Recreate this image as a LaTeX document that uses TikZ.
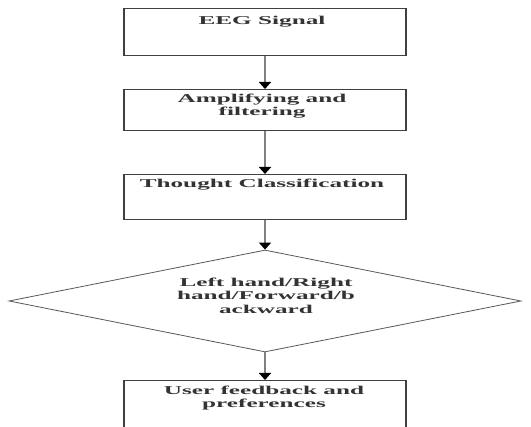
\documentclass[tikz,border=0pt]{standalone}
\usepackage{fontspec}
\setmainfont{Liberation Serif}
\usetikzlibrary{arrows.meta,shapes.geometric}
\newcommand{\stretchtxt}[1]{\scalebox{2.1}[1]{\bfseries\begin{tabular}{@{}c@{}}#1\end{tabular}}}
\begin{document}
\begin{tikzpicture}[x=1pt,y=-1pt,
  flowbox/.style={draw=black!75, line width=1.2pt, rectangle, inner sep=0pt,
    minimum width=282pt},
  decision/.style={draw=black!65, line width=0.8pt, diamond, inner sep=0pt,
    minimum width=512pt, minimum height=102pt},
  txt/.style={inner sep=0pt, text=black!80, font=\fontsize{12}{13.5}\selectfont},
  flowarrow/.style={draw=black!50, line width=2.4pt,
    -{Triangle[width=12pt,length=7pt,color=black]}}]
\clip (0,0) rectangle (531,427);
\fill[white] (0,0) rectangle (531,427);
% boxes
\node[flowbox, minimum height=47pt, anchor=north] (b1) at (265,8) {};
\node[flowbox, minimum height=41pt, anchor=north] (b2) at (265,89) {};
\node[flowbox, minimum height=45pt, anchor=north] (b3) at (265,174) {};
\node[decision] (d4) at (265,301) {};
\node[flowbox, minimum height=70pt, anchor=north] (b5) at (265,380) {};
% texts
\node[txt] (t1) at (262,22) {\stretchtxt{EEG Signal}};
\node[txt] (t2) at (262,106.5) {\stretchtxt{Amplifying and\\filtering}};
\node[txt] (t3) at (262,185) {\stretchtxt{Thought Classification}};
\node[txt] (t4) at (266,297) {\stretchtxt{Left hand/Right\\hand/Forward/b\\ackward}};
\node[txt] (t5) at (264,398.5) {\stretchtxt{User feedback and\\preferences}};
% connectors
\draw[flowarrow] (b1.south) -- (b2.north);
\draw[flowarrow] (b2.south) -- (b3.north);
\draw[flowarrow] (b3.south) -- (d4.north);
\draw[flowarrow] (d4.south) -- (b5.north);
\end{tikzpicture}
\end{document}
